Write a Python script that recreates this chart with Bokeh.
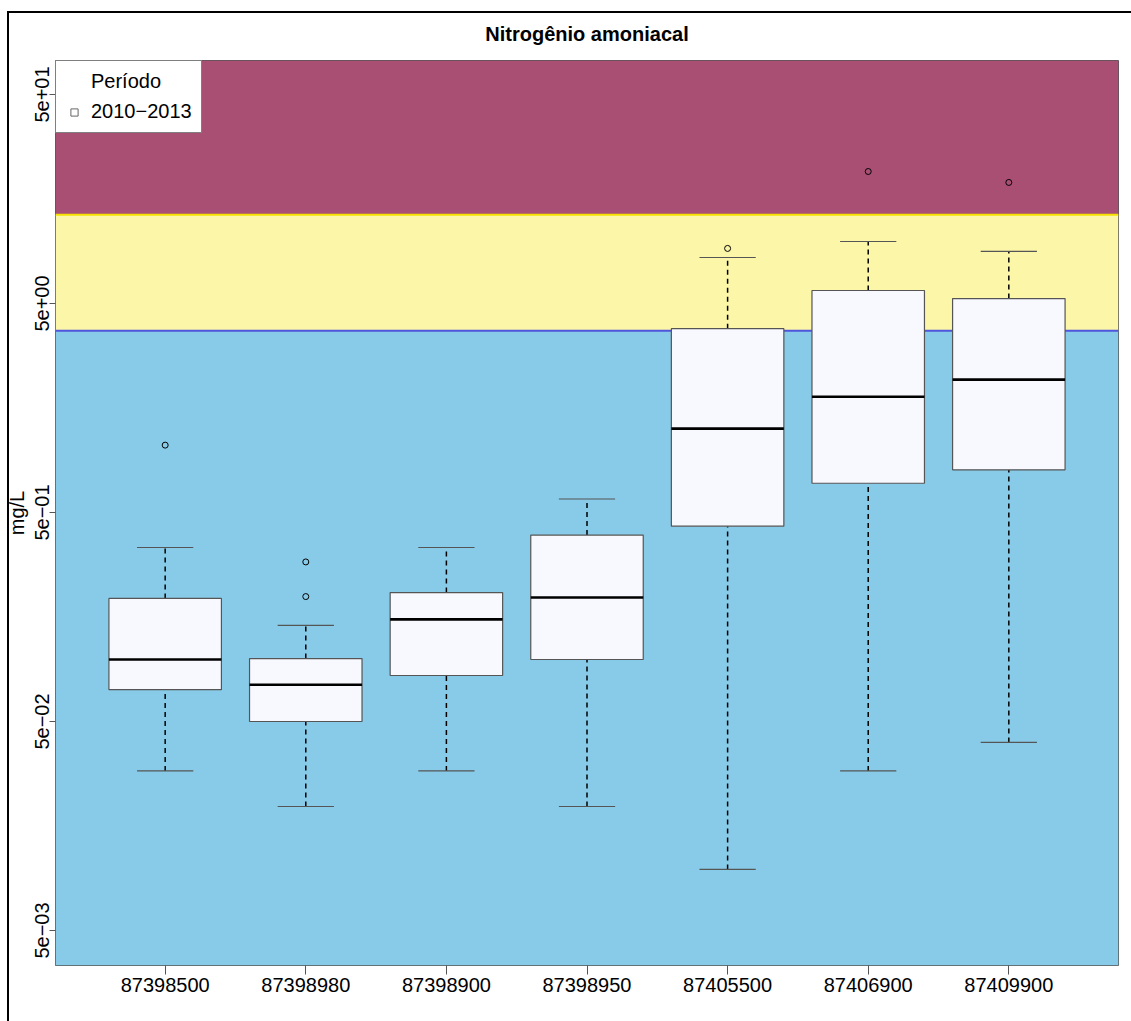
from bokeh.plotting import figure
from bokeh.models import (Range1d, FixedTicker, BoxAnnotation, Span, Legend,
                          LegendItem, ColumnDataSource)
from bokeh.embed import file_html
from bokeh.resources import INLINE

# Ammonia nitrogen (mg/L) per monitoring station, period 2010-2013
stations = ["87398500", "87398980", "87398900", "87398950",
            "87405500", "87406900", "87409900"]
whisker_low = [0.029, 0.0196, 0.029, 0.0196, 0.0098, 0.029, 0.0397]
quart1 = [0.071, 0.050, 0.083, 0.099, 0.43, 0.69, 0.80]
median = [0.099, 0.075, 0.154, 0.196, 1.26, 1.79, 2.16]
quart3 = [0.194, 0.100, 0.207, 0.39, 3.79, 5.77, 5.28]
whisker_high = [0.34, 0.144, 0.34, 0.58, 8.3, 9.9, 8.87]
outlier_station = [1, 2, 2, 5, 6, 7]
outlier_value = [1.05, 0.29, 0.198, 9.17, 21.4, 18.97]

# Class limits (CONAMA 357) that split the background bands
limit_class1 = 3.7
limit_class3 = 13.3

y_ticks = [0.005, 0.05, 0.5, 5, 50]
y_tick_labels = ["5e\u221203", "5e\u221202", "5e\u221201", "5e+00", "5e+01"]
legend_title = "Per\u00edodo"
period_label = "2010\u22122013"

FONT = "Liberation Sans"
n = len(stations)
xs = list(range(1, n + 1))
x_start = 0.5 - 0.04 * n
x_end = n + 0.5 + 0.04 * n

p = figure(width=1131, height=1021, output_backend="svg", toolbar_location=None,
           y_axis_type="log",
           x_range=Range1d(x_start, x_end),
           y_range=Range1d(0.0034, 72.7),
           min_border_left=55, min_border_right=13,
           min_border_top=60, min_border_bottom=56)
# Page frame: black rule along the left and top edges, shown through the
# transparent border area of the canvas
p.border_fill_color = None
p.styles = {"background": "linear-gradient(#000, #000) 7px 11px / 2px 100% no-repeat, "
                          "linear-gradient(#000, #000) 7px 11px / 100% 2px no-repeat, #fff"}

p.title.text = "Nitrog\u00eanio amoniacal"
p.title.align = "center"
p.title.text_font = FONT
p.title.text_font_size = "20px"
p.title.text_font_style = "bold"
p.title.text_color = "black"
p.title.standoff = 32

p.xgrid.visible = False
p.ygrid.visible = False
p.outline_line_color = "#555555"
p.outline_line_width = 1
p.background_fill_color = "white"

# Background quality bands
p.add_layout(BoxAnnotation(bottom=limit_class3, fill_color="#AA4F74", fill_alpha=1,
                           line_color=None, level="image"))
p.add_layout(BoxAnnotation(bottom=limit_class1, top=limit_class3, fill_color="#FCF6A8",
                           fill_alpha=1, line_color=None, level="image"))
p.add_layout(BoxAnnotation(top=limit_class1, fill_color="#88CBE8", fill_alpha=1,
                           line_color=None, level="image"))
p.add_layout(Span(location=limit_class3, dimension="width", line_color="#F5E000",
                  line_width=2, level="underlay"))
p.add_layout(Span(location=limit_class1, dimension="width", line_color="#4F55DC",
                  line_width=2, level="underlay"))

src = ColumnDataSource(dict(
    x=xs, lo=whisker_low, q1=quart1, med=median, q3=quart3, hi=whisker_high,
    xl=[x - 0.4 for x in xs], xr=[x + 0.4 for x in xs],
    cl=[x - 0.2 for x in xs], cr=[x + 0.2 for x in xs],
))

# Whiskers
p.segment(x0="x", y0="q3", x1="x", y1="hi", source=src, line_color="black",
          line_width=1.5, line_dash="5 4")
p.segment(x0="x", y0="lo", x1="x", y1="q1", source=src, line_color="black",
          line_width=1.5, line_dash="5 4")
p.segment(x0="cl", y0="hi", x1="cr", y1="hi", source=src, line_color="#555555",
          line_width=1.2)
p.segment(x0="cl", y0="lo", x1="cr", y1="lo", source=src, line_color="#555555",
          line_width=1.2)

# Boxes and medians
p.vbar(x="x", width=0.8, bottom="q1", top="q3", source=src, fill_color="#F8F8FF",
       line_color="#555555", line_width=1.2)
p.segment(x0="xl", y0="med", x1="xr", y1="med", source=src, line_color="black",
          line_width=2.6)

# Outliers
p.scatter(outlier_station, outlier_value, marker="circle", size=6,
          fill_color=None, line_color="black", line_width=1)

# Legend proxies live on a spare x range, so they never show inside the frame
p.extra_x_ranges = {"legend_proxy": Range1d(x_end + 100, x_end + 200)}
heading = p.scatter(x="x", y="med", source=src, x_range_name="legend_proxy",
                    marker="square", fill_alpha=0, line_alpha=0)
period = p.scatter(x="x", y="med", source=src, x_range_name="legend_proxy",
                   marker="square", fill_color="white", line_color="#666666",
                   line_width=1)
legend = Legend(items=[LegendItem(label=legend_title, renderers=[heading]),
                       LegendItem(label=period_label, renderers=[period])],
                location="top_left", margin=0, padding=9,
                border_line_color="black", border_line_width=1,
                background_fill_color="white", background_fill_alpha=1,
                label_text_font=FONT, label_text_font_size="20px",
                label_text_color="black",
                glyph_width=18, glyph_height=18, label_standoff=8, spacing=7)
p.add_layout(legend)

# Axes
p.xaxis.ticker = FixedTicker(ticks=xs)
p.xaxis.major_label_overrides = {x: s for x, s in zip(xs, stations)}
p.xaxis.minor_tick_line_color = None
p.xaxis.axis_line_color = None
p.xaxis.major_tick_in = 0
p.xaxis.major_tick_out = 9
p.xaxis.major_tick_line_color = "#555555"
p.xaxis.major_label_standoff = 3
p.xaxis.major_label_text_font = FONT
p.xaxis.major_label_text_font_size = "20px"
p.xaxis.major_label_text_color = "black"

p.yaxis.ticker = FixedTicker(ticks=y_ticks)
p.yaxis.major_label_overrides = {t: s for t, s in zip(y_ticks, y_tick_labels)}
p.yaxis.major_label_orientation = "parallel"
p.yaxis.minor_tick_line_color = None
p.yaxis.axis_line_color = None
p.yaxis.major_tick_in = 0
p.yaxis.major_tick_out = 6
p.yaxis.major_tick_line_color = "#555555"
p.yaxis.major_label_standoff = 0
p.yaxis.major_label_text_font = FONT
p.yaxis.major_label_text_font_size = "20px"
p.yaxis.major_label_text_color = "black"
p.yaxis.axis_label = "mg/L"
p.yaxis.axis_label_text_font = FONT
p.yaxis.axis_label_text_font_size = "20px"
p.yaxis.axis_label_text_font_style = "normal"
p.yaxis.axis_label_text_color = "black"
p.yaxis.axis_label_standoff = 5

open("out.html", "w").write(file_html(p, INLINE))
